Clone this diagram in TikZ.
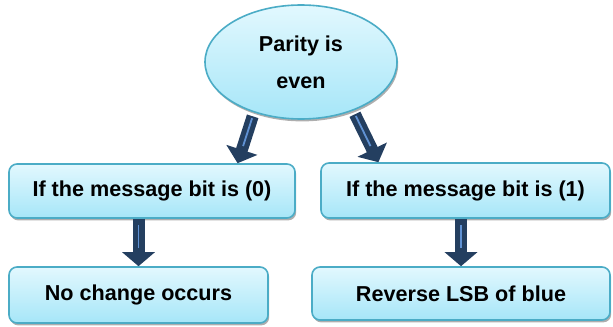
\documentclass[tikz,border=0pt]{standalone}
\usepackage{fontspec}
\setmainfont{Liberation Sans}
\usepackage{xcolor}
\usetikzlibrary{shapes.geometric,arrows.meta,shadows}

\definecolor{boxline}{RGB}{75,172,198}
\definecolor{boxtop}{RGB}{226,248,254}
\definecolor{boxbottom}{RGB}{166,230,248}
\definecolor{arrowdark}{RGB}{36,63,96}
\definecolor{arrowstripe}{RGB}{96,146,212}

\begin{document}
\begin{tikzpicture}[x=0.5pt, y=-0.5pt,
		every node/.style={draw=boxline, line width=0.8pt, top color=boxtop, bottom color=boxbottom, align=center, inner sep=0pt, font=\bfseries\fontsize{10.8}{18.5}\selectfont, drop shadow={shadow xshift=0.6pt, shadow yshift=-1.2pt, fill=black!45, opacity=0.7}},
		flowbox/.style={rectangle, rounded corners=4pt},
		blockarrow/.style={draw=arrowdark, line width=6pt, -{Triangle[length=7pt, width=16pt]}, postaction={draw=arrowstripe, line width=0.9pt, -, shorten >=9pt, shorten <=3pt}}]
				\useasboundingbox (0,0) rectangle (613,326);
				\node (parity) at (301,62) [ellipse, minimum width=96pt, minimum height=57pt] {Parity is\\even};
				\node (ifzero) at (152,191) [flowbox, minimum width=143pt, minimum height=27pt] {If the message bit is (0)};
				\node (ifone) at (465.5,190.5) [flowbox, minimum width=144.5pt, minimum height=27.5pt] {If the message bit is (1)};
				\node (nochange) at (138.5,295) [flowbox, minimum width=129.5pt, minimum height=28pt] {No change occurs};
				\node (reverse) at (461,293.5) [flowbox, minimum width=149pt, minimum height=26.5pt] {Reverse LSB of blue};

				\draw[blockarrow, shorten <=2pt] (parity.227) -- (ifzero.18.6);
				\draw[blockarrow, shorten <=2pt] (parity.317) -- (ifone.162.6);
				\draw[blockarrow] (ifzero.south -| nochange.north) -- (nochange.north);
				\draw[blockarrow] (ifone.south -| reverse.north) -- (reverse.north);
			\end{tikzpicture}
\end{document}
